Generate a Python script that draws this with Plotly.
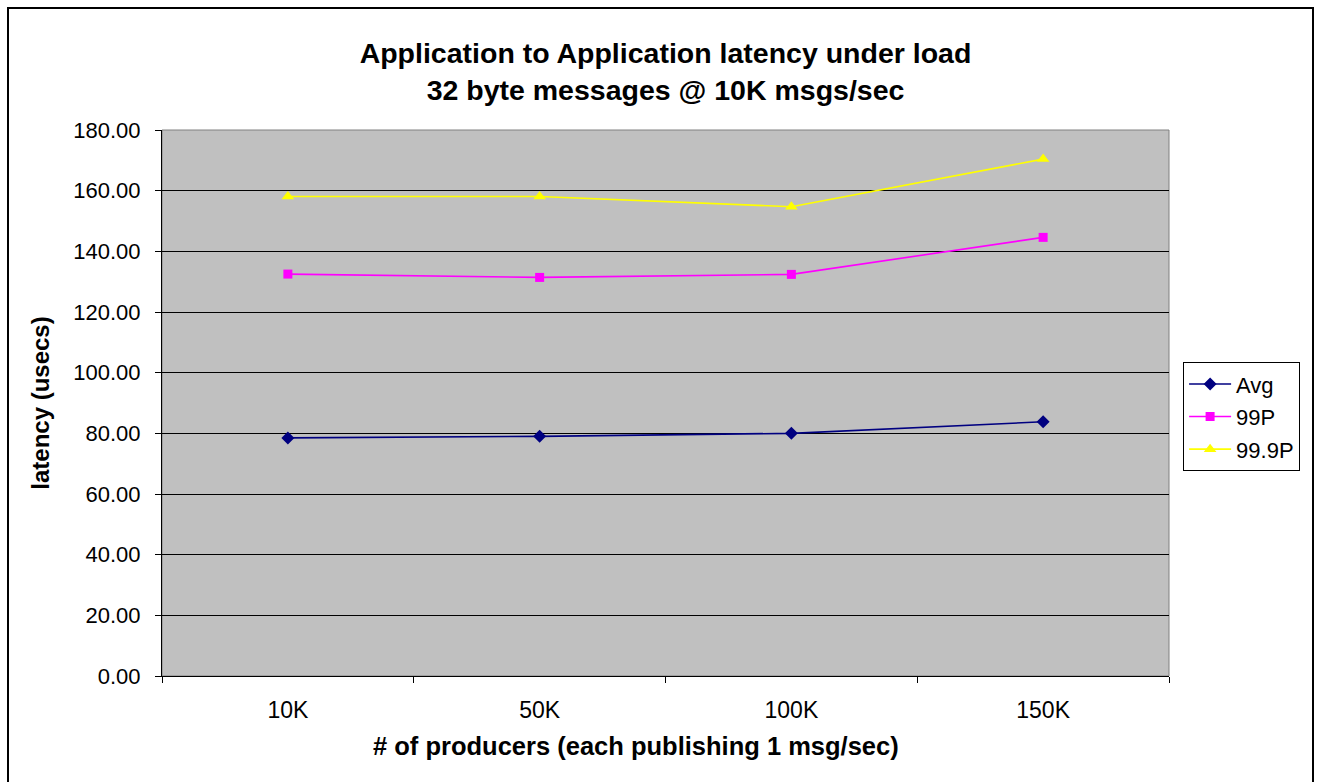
import plotly.graph_objects as go

# Producer counts on the category axis
categories = ["10K", "50K", "100K", "150K"]

# Latency series (microseconds)
avg_latency = [78.5, 79.0, 80.0, 83.8]
p99_latency = [132.5, 131.4, 132.4, 144.6]
p999_latency = [158.1, 158.1, 154.7, 170.4]

y_ticks = [0, 20, 40, 60, 80, 100, 120, 140, 160, 180]

FONT = "Liberation Sans, Arial, sans-serif"

fig = go.Figure()

series = [
    ("Avg", avg_latency, "#000080", "diamond", 10),
    ("99P", p99_latency, "#FF00FF", "square", 9),
    ("99.9P", p999_latency, "#FFFF00", "triangle-up", 11),
]
for name, vals, color, symbol, size in series:
    fig.add_trace(go.Scatter(
        x=categories, y=vals, name=name, mode="lines+markers",
        legendgroup=name,
        line=dict(color=color, width=1.6),
        marker=dict(symbol=symbol, size=size, color=color),
    ))

fig.update_layout(
    width=1319, height=782,
    paper_bgcolor="white", plot_bgcolor="#C0C0C0",
    margin=dict(l=162, r=150, t=130, b=106),
    font=dict(family=FONT, color="black", size=22),
    title=dict(
        text="<b>Application to Application latency under load<br>32 byte messages @ 10K msgs/sec</b>",
        x=0.5, xref="paper", xanchor="center",
        y=0.92, yanchor="middle",
        font=dict(size=28.5, family=FONT),
    ),
    showlegend=True,
    legend=dict(
        x=1.014, xanchor="left", y=0.475, yanchor="middle",
        bgcolor="white", bordercolor="black", borderwidth=1,
        font=dict(size=22, family=FONT), tracegroupgap=1, itemwidth=42,
    ),
    xaxis=dict(
        type="category", range=[-0.5, 3.5],
        tickson="boundaries", ticks="outside", ticklen=6, tickcolor="black",
        showline=True, linecolor="black", linewidth=1,
        showgrid=False, zeroline=False,
        tickfont=dict(size=23), ticklabelstandoff=13,
    ),
    yaxis=dict(
        range=[0, 180], tickvals=y_ticks, tickformat=".2f",
        ticks="outside", ticklen=6, tickcolor="black",
        showline=True, linecolor="black", linewidth=1,
        showgrid=True, gridcolor="black", gridwidth=1, zeroline=False,
        tickfont=dict(size=22), ticklabelstandoff=10,
        title=dict(text="<b>latency (usecs)</b>", font=dict(size=24), standoff=16),
    ),
)

# Category-axis title, centred a little left of the plot centre
fig.add_annotation(
    text="<b># of producers (each publishing 1 msg/sec)</b>",
    xref="paper", yref="paper", x=(636 - 162) / 1007, y=-70 / 546,
    xanchor="center", yanchor="middle", showarrow=False,
    font=dict(size=25.5, family=FONT),
)

# Plot-area frame
fig.add_shape(type="rect", xref="paper", yref="paper", x0=0, x1=1, y0=0, y1=1,
              line=dict(color="#808080", width=1), layer="below")
# Outer chart border
fig.add_shape(type="rect", xref="paper", yref="paper",
              x0=-154 / 1007, x1=1151 / 1007, y0=-120 / 546, y1=668 / 546,
              line=dict(color="black", width=2))

fig.write_html("out.html")
